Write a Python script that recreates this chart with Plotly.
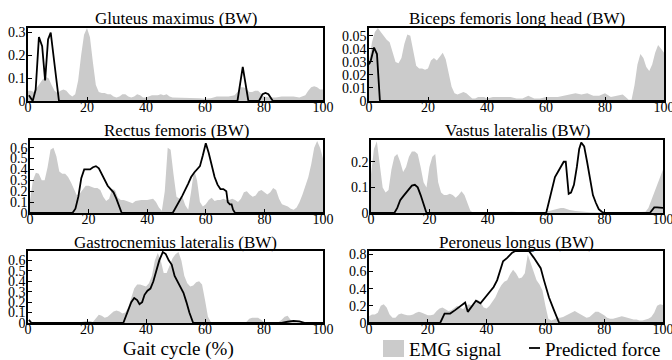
import plotly.graph_objects as go

W, H = 672, 360

# ---------------- data ----------------
titles = ["Gluteus maximus (BW)", "Biceps femoris long head (BW)",
          "Rectus femoris (BW)", "Vastus lateralis (BW)",
          "Gastrocnemius lateralis (BW)", "Peroneus longus (BW)"]

x_ticks = [0, 20, 40, 60, 80, 100]
y_ticks = [[0, 0.1, 0.2, 0.3],
           [0, 0.01, 0.02, 0.03, 0.04, 0.05],
           [0, 0.1, 0.2, 0.3, 0.4, 0.5, 0.6],
           [0, 0.1, 0.2],
           [0, 0.1, 0.2, 0.3, 0.4, 0.5, 0.6],
           [0, 0.2, 0.4, 0.6, 0.8]]
y_max = [0.32, 0.056, 0.67, 0.285, 0.69, 0.84]

# Gluteus maximus
glut_emg_x = [0, 1, 2, 3, 4, 5, 6, 7, 8, 9, 10, 11, 12, 13, 14, 15, 16, 17, 18, 19, 20,
              21, 22, 23, 24, 25, 26, 27, 28, 29, 30, 31, 32, 33, 34, 35, 36, 37, 38, 39,
              40, 41, 42, 43, 44, 45, 46, 47, 48, 49, 50, 52, 54, 56, 58, 60, 62, 64, 66,
              68, 70, 71, 72, 73, 74, 75, 76, 77, 78, 79, 80, 82, 84, 86, 88, 90, 92, 94,
              95, 96, 97, 98, 99, 100]
glut_emg_y = [0.045, 0.045, 0.04, 0.06, 0.08, 0.095, 0.105, 0.1, 0.07, 0.045, 0.035, 0.045,
              0.05, 0.045, 0.03, 0.02, 0.03, 0.09, 0.2, 0.29, 0.32, 0.28, 0.17, 0.07, 0.04,
              0.035, 0.035, 0.03, 0.03, 0.02, 0.015, 0.02, 0.03, 0.03, 0.02, 0.015, 0.02,
              0.03, 0.025, 0.015, 0.015, 0.02, 0.025, 0.025, 0.025, 0.03, 0.025, 0.03, 0.02,
              0.015, 0.015, 0.015, 0.015, 0.012, 0.012, 0.01, 0.012, 0.02, 0.02, 0.02, 0.025,
              0.04, 0.06, 0.06, 0.055, 0.04, 0.04, 0.045, 0.045, 0.03, 0.02, 0.015, 0.015,
              0.02, 0.02, 0.02, 0.015, 0.025, 0.045, 0.06, 0.065, 0.06, 0.05, 0.05]
glut_force_x = [0.3, 1.6, 2.6, 3.7, 4.8, 5.8, 6.8, 7.7, 9.0, 10.5, 71.0, 72.8, 74.7,
                78.3, 79.5, 80.5, 81.5, 83.0, 100]
glut_force_y = [0.025, 0.0, 0.05, 0.28, 0.24, 0.09, 0.27, 0.30, 0.16, 0.0, 0.0, 0.15, 0.0,
                0.0, 0.03, 0.035, 0.03, 0.0, 0.0]

# Biceps femoris long head
bic_emg_x = [0, 1, 2, 3, 4, 5, 6, 7, 8, 9, 10, 11, 12, 13, 14, 15, 16, 17, 18, 19, 20, 21,
             22, 23, 24, 25, 26, 27, 28, 29, 30, 31, 32, 33, 34, 35, 36, 37, 38, 39, 40, 42,
             44, 46, 48, 50, 52, 54, 56, 58, 60, 62, 64, 66, 68, 70, 72, 74, 76, 78, 80, 82,
             84, 86, 87, 88, 89, 90, 91, 92, 93, 94, 95, 96, 97, 98, 99, 100]
bic_emg_y = [0.03, 0.045, 0.053, 0.056, 0.053, 0.05, 0.047, 0.045, 0.038, 0.03, 0.029,
             0.033, 0.044, 0.051, 0.05, 0.038, 0.027, 0.025, 0.025, 0.024, 0.025, 0.031,
             0.033, 0.031, 0.034, 0.037, 0.032, 0.02, 0.011, 0.006, 0.005, 0.006, 0.007,
             0.006, 0.004, 0.002, 0.002, 0.003, 0.003, 0.003, 0.002, 0.003, 0.003, 0.003,
             0.003, 0.002, 0.002, 0.004, 0.002, 0.002, 0.003, 0.003, 0.003, 0.004, 0.005,
             0.006, 0.005, 0.006, 0.004, 0.004, 0.006, 0.003, 0.004, 0.005, 0.003, 0.001,
             0.001, 0.012, 0.028, 0.036, 0.033, 0.026, 0.023, 0.028, 0.037, 0.043, 0.04,
             0.037]
bic_force_x = [0, 0.6, 1.7, 2.7, 3.7, 100]
bic_force_y = [0.028, 0.031, 0.041, 0.036, 0.0, 0.0]

# Rectus femoris
rect_emg_x = list(range(0, 36)) + [36, 38, 40, 42] + list(range(43, 101))
rect_emg_y = [0.12, 0.3, 0.37, 0.36, 0.3, 0.3, 0.42, 0.58, 0.6, 0.52, 0.38, 0.36, 0.36,
              0.33, 0.28, 0.22, 0.16, 0.18, 0.22, 0.25, 0.25, 0.24, 0.23, 0.23, 0.21, 0.15,
              0.11, 0.13, 0.22, 0.21, 0.14, 0.12, 0.12, 0.11, 0.1, 0.09,
              0.11, 0.12, 0.12, 0.13,
              0.1, 0.05, 0.02, 0.2, 0.6, 0.58, 0.35, 0.15, 0.13, 0.15, 0.07, 0.03, 0.2,
              0.4, 0.3, 0.1, 0.06, 0.08, 0.12, 0.14, 0.11, 0.12, 0.12, 0.13, 0.12, 0.12,
              0.13, 0.12, 0.1, 0.13, 0.19, 0.2, 0.17, 0.15, 0.16, 0.2, 0.21, 0.19, 0.17,
              0.19, 0.23, 0.21, 0.13, 0.08, 0.07, 0.06, 0.04, 0.03, 0.05, 0.1, 0.17, 0.25,
              0.33, 0.45, 0.6, 0.66, 0.6, 0.5]
rect_force_x = [0, 14.5, 15.5, 16.5, 17.5, 18.5, 19.5, 20.5, 21.5, 22.5, 23.5, 24.5, 25.5,
                26.5, 27.5, 28.5, 29.5, 30.5, 31.3, 48.7, 50, 52, 54, 55, 56, 57, 58, 59,
                60, 61, 62, 63, 64, 65, 66, 67, 67.5, 68.2, 68.8, 69.3, 70, 100]
rect_force_y = [0, 0, 0.04, 0.15, 0.32, 0.4, 0.4, 0.4, 0.42, 0.43, 0.41, 0.36, 0.3, 0.25,
                0.22, 0.19, 0.13, 0.06, 0.0, 0.0, 0.06, 0.16, 0.27, 0.33, 0.37, 0.4, 0.43,
                0.53, 0.64, 0.55, 0.45, 0.33, 0.26, 0.22, 0.22, 0.2, 0.1, 0.08, 0.08, 0.03,
                0.0, 0.0]

# Vastus lateralis
vast_emg_x = list(range(0, 36)) + [37, 40, 44, 48, 52, 56, 59, 60, 62, 64, 65, 66, 68, 70,
                                   72, 75, 80, 85, 90, 94, 95, 96, 97, 98, 99, 100]
vast_emg_y = [0.15, 0.25, 0.28, 0.2, 0.1, 0.08, 0.09, 0.17, 0.22, 0.23, 0.2, 0.16, 0.18,
              0.22, 0.24, 0.24, 0.23, 0.18, 0.12, 0.1, 0.18, 0.22, 0.23, 0.12, 0.08, 0.07,
              0.07, 0.075, 0.07, 0.06, 0.07, 0.085, 0.07, 0.04, 0.01, 0.0,
              0.003, 0.003, 0.002, 0.005, 0.002, 0.001, 0.002, 0.005, 0.01, 0.018, 0.02,
              0.02, 0.012, 0.008, 0.005, 0.003, 0.002, 0.002, 0.003, 0.005, 0.02, 0.05, 0.08,
              0.11, 0.14, 0.17]
vast_force_x = [0, 8, 9, 10, 11, 12, 13, 14, 15, 16, 17, 18, 19, 60, 61, 62, 63, 64, 65, 66,
                66.7, 67.7, 68.5, 69.5, 70.5, 71.3, 72, 73, 74, 75, 76, 77, 78, 79, 80,
                95.5, 96.5, 97, 98, 99, 100]
vast_force_y = [0, 0, 0.02, 0.05, 0.065, 0.08, 0.095, 0.107, 0.11, 0.1, 0.07, 0.03, 0.0,
                0.0, 0.05, 0.1, 0.14, 0.16, 0.18, 0.2, 0.2, 0.075, 0.08, 0.11, 0.18, 0.25,
                0.275, 0.26, 0.2, 0.13, 0.07, 0.04, 0.015, 0.005, 0.0, 0.0, 0.015, 0.022,
                0.022, 0.02, 0.02]

# Gastrocnemius lateralis
gast_emg_x = [0, 5, 10, 15, 18, 20, 21, 22, 23, 24, 25, 26, 27, 28, 29, 30, 31, 32] + \
             list(range(33, 63)) + [66, 70, 74, 75, 76, 77, 78, 79, 80, 85, 86, 87, 88, 89,
                                    90, 95, 100]
gast_emg_y = [0.005, 0.005, 0.005, 0.005, 0.01, 0.02, 0.02, 0.01, 0.04, 0.08, 0.07, 0.05,
              0.06, 0.09, 0.11, 0.12, 0.11, 0.09,
              0.1, 0.15, 0.25, 0.33, 0.37, 0.37, 0.36, 0.35, 0.38, 0.45, 0.6, 0.67, 0.6,
              0.48, 0.48, 0.55, 0.62, 0.66, 0.68, 0.6, 0.45, 0.38, 0.35, 0.36, 0.39, 0.4,
              0.37, 0.22, 0.06, 0.01,
              0.005, 0.005, 0.01, 0.04, 0.05, 0.05, 0.05, 0.03, 0.01, 0.01, 0.03, 0.06, 0.07,
              0.03, 0.01, 0.01, 0.01]
gast_force_x = [0.3, 1.2, 32.3, 33, 34, 35, 36, 37, 37.8, 38.7, 39.5, 40.5, 41.5, 42.5,
                43.5, 44.5, 45.7, 46.7, 47.7, 48.7, 49.7, 50.7, 51.7, 52.7, 53.7, 54.7,
                56, 86, 88, 90, 92, 94, 100]
gast_force_y = [0.03, 0.0, 0.0, 0.05, 0.12, 0.2, 0.24, 0.22, 0.18, 0.2, 0.27, 0.31, 0.33,
                0.4, 0.5, 0.6, 0.68, 0.66, 0.6, 0.56, 0.45, 0.4, 0.35, 0.29, 0.2, 0.1, 0.0,
                0.0, 0.012, 0.02, 0.015, 0.0, 0.0]

# Peroneus longus
per_emg_x = list(range(0, 101))
per_emg_y = [0.08, 0.1, 0.1, 0.12, 0.2, 0.22, 0.18, 0.1, 0.06, 0.06, 0.1, 0.11, 0.1, 0.09,
             0.09, 0.1, 0.12, 0.13, 0.12, 0.1, 0.09, 0.09, 0.1, 0.14, 0.17, 0.18, 0.16,
             0.14, 0.15, 0.18, 0.2, 0.18, 0.16, 0.2, 0.22, 0.2, 0.22, 0.27, 0.24, 0.18,
             0.17, 0.2, 0.25, 0.3, 0.38, 0.44, 0.48, 0.5, 0.57, 0.62, 0.58, 0.52, 0.53,
             0.58, 0.8, 0.7, 0.6, 0.5, 0.45, 0.38, 0.2, 0.05, 0.03, 0.04, 0.06, 0.06, 0.07,
             0.09, 0.11, 0.13, 0.14, 0.12, 0.1, 0.07, 0.06, 0.07, 0.1, 0.13, 0.13, 0.11,
             0.09, 0.06, 0.05, 0.05, 0.06, 0.07, 0.08, 0.07, 0.06, 0.05, 0.04, 0.04, 0.03,
             0.03, 0.04, 0.05, 0.07, 0.12, 0.2, 0.22, 0.21]
per_force_x = [0, 24.2, 25.7, 27.6, 29.3, 31, 32.7, 33.6, 35, 36.4, 37.9, 39.6, 41.3, 42.4,
               43.6, 45.6, 47, 48.7, 49.8, 54.4, 56.1, 57.2, 58.4, 59.5, 61.2, 62.9, 64.7,
               100]
per_force_y = [0, 0, 0.11, 0.11, 0.15, 0.2, 0.24, 0.13, 0.2, 0.26, 0.23, 0.3, 0.38, 0.42,
               0.5, 0.72, 0.76, 0.82, 0.84, 0.84, 0.76, 0.7, 0.64, 0.5, 0.3, 0.15, 0.0, 0.0]

emg_x = [glut_emg_x, bic_emg_x, rect_emg_x, vast_emg_x, gast_emg_x, per_emg_x]
emg_y = [glut_emg_y, bic_emg_y, rect_emg_y, vast_emg_y, gast_emg_y, per_emg_y]
force_x = [glut_force_x, bic_force_x, rect_force_x, vast_force_x, gast_force_x, per_force_x]
force_y = [glut_force_y, bic_force_y, rect_force_y, vast_force_y, gast_force_y, per_force_y]

# ---------------- layout (pixel boxes) ----------------
x_boxes = [(28, 323), (369, 664), (30, 323), (371, 663), (28, 323), (369, 663)]
y_boxes = [(28, 101), (28, 101), (140, 213), (140, 213), (251, 323), (251, 323)]
title_y = [18, 18, 130, 130, 242, 242]

FONT = "Liberation Serif, Times New Roman, serif"
GRAY = "#cbcbcb"

fig = go.Figure()
layout = dict(
    width=W, height=H, margin=dict(l=0, r=0, t=0, b=0, autoexpand=False),
    paper_bgcolor="white", plot_bgcolor="white",
    font=dict(family=FONT, size=14, color="black"),
    showlegend=False,
)

annotations = []
shapes = []
for i in range(6):
    n = "" if i == 0 else str(i + 1)
    xa, ya = "x" + n, "y" + n
    fig.add_trace(go.Scatter(x=emg_x[i], y=emg_y[i], mode="lines", fill="tozeroy",
                             fillcolor=GRAY, line=dict(width=0, color=GRAY),
                             xaxis=xa, yaxis=ya, name="EMG signal", hoverinfo="skip"))
    fig.add_trace(go.Scatter(x=force_x[i], y=force_y[i], mode="lines",
                             line=dict(width=1.8, color="black"),
                             xaxis=xa, yaxis=ya, name="Predicted force"))
    x0, x1 = x_boxes[i]
    y0, y1 = y_boxes[i]
    common = dict(showline=True, linecolor="black", linewidth=1.5, mirror=True,
                  ticks="inside", ticklen=4, tickwidth=1, tickcolor="black",
                  showgrid=False, zeroline=False, automargin=False,
                  ticklabeloverflow="allow",
                  tickfont=dict(size=14, family=FONT))
    layout["xaxis" + n] = dict(domain=[x0 / W, x1 / W], range=[0, 100], tickvals=x_ticks,
                               anchor=ya, ticklabelstandoff=-8, **common)
    layout["yaxis" + n] = dict(domain=[1 - y1 / H, 1 - y0 / H], range=[0, y_max[i]],
                               tickvals=y_ticks[i], anchor=xa, ticklabelstandoff=-2, **common)
    annotations.append(dict(text=titles[i], x=(x0 + x1) / 2 / W, y=1 - title_y[i] / H,
                            xref="paper", yref="paper", xanchor="center", yanchor="middle",
                            showarrow=False, font=dict(size=17, family=FONT)))

# axis title
annotations.append(dict(text="Gait cycle (%)", x=178 / W, y=1 - 349 / H, xref="paper",
                        yref="paper", xanchor="center", yanchor="middle", showarrow=False,
                        font=dict(size=19, family=FONT)))
# legend
shapes.append(dict(type="rect", xref="paper", yref="paper", x0=383 / W, x1=404 / W,
                   y0=1 - 357 / H, y1=1 - 340 / H, fillcolor=GRAY, line=dict(width=0)))
annotations.append(dict(text="EMG signal", x=407 / W, y=1 - 349 / H, xref="paper",
                        yref="paper", xanchor="left", yanchor="middle", showarrow=False,
                        font=dict(size=19, family=FONT)))
shapes.append(dict(type="line", xref="paper", yref="paper", x0=529 / W, x1=540 / W,
                   y0=1 - 348 / H, y1=1 - 348 / H, line=dict(width=1.8, color="black")))
annotations.append(dict(text="Predicted force", x=543 / W, y=1 - 349 / H, xref="paper",
                        yref="paper", xanchor="left", yanchor="middle", showarrow=False,
                        font=dict(size=19, family=FONT)))

layout["annotations"] = annotations
layout["shapes"] = shapes
fig.update_layout(**layout)
fig.write_html("out.html", config={"displayModeBar": False},
               post_script="document.body.style.margin='0';"
                           "document.body.style.overflow='hidden';")
